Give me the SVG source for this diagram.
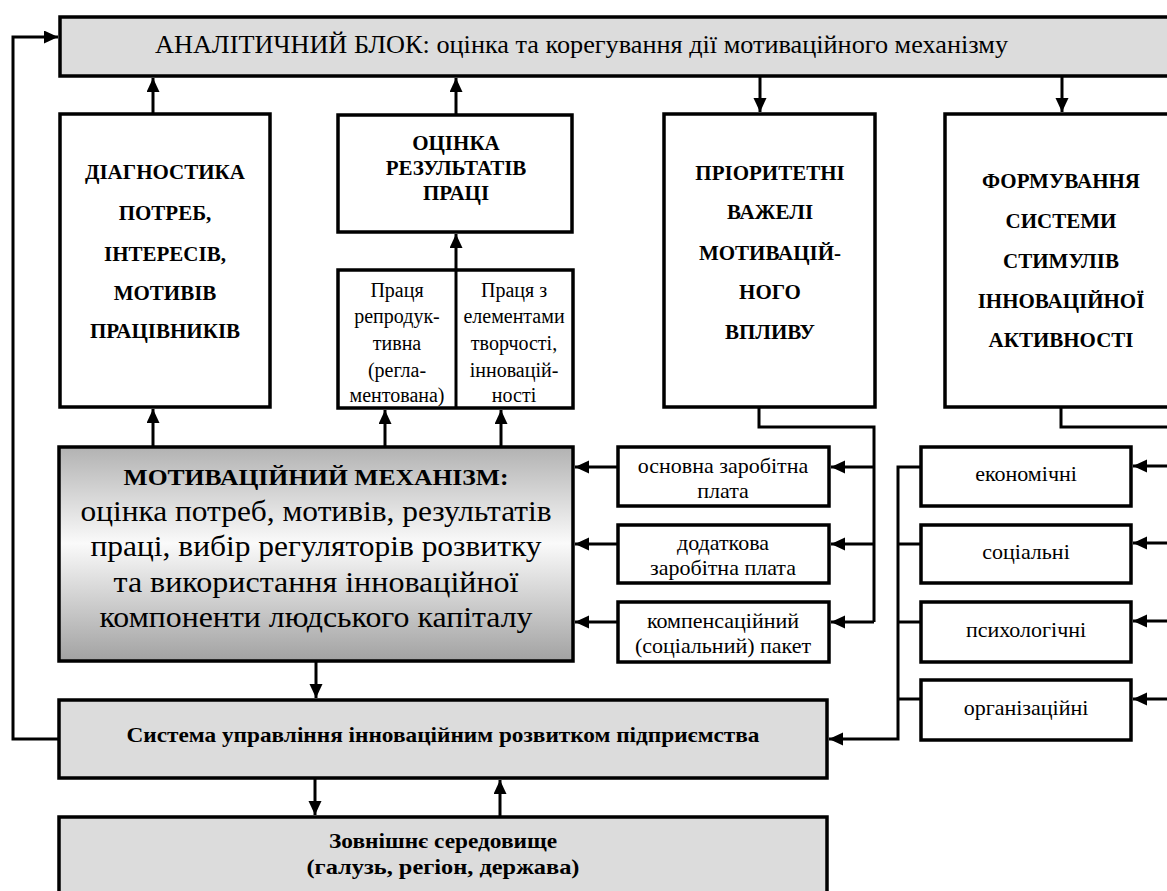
<svg xmlns="http://www.w3.org/2000/svg" width="1167" height="891" viewBox="0 0 1167 891">
<defs>
<style>
.box{fill:#fff;stroke:#000;stroke-width:3.5}
.grey{fill:#dcdcdc;stroke:#000;stroke-width:3.5}
.ln{fill:none;stroke:#000;stroke-width:3}
.t{font-family:"Liberation Serif","Times New Roman",serif;fill:#000;text-anchor:middle}
.s{text-anchor:start}
.b{font-weight:bold}
.sm{font-size:22px}
</style>
<linearGradient id="mg" x1="0" y1="0" x2="0" y2="1">
<stop offset="0" stop-color="#b2b2b2"/>
<stop offset="0.45" stop-color="#fafafa"/>
<stop offset="1" stop-color="#a2a2a2"/>
</linearGradient>
<marker id="ah" markerUnits="userSpaceOnUse" markerWidth="16" markerHeight="14" refX="14" refY="6.5" orient="auto">
<path d="M0,0 L14,6.5 L0,13 z" fill="#000"/>
</marker>
</defs>

<g id="analytic">
<rect class="grey" x="60" y="17" width="1130" height="59"/>
<text class="t s" x="155" y="53" font-size="24.5" textLength="853" lengthAdjust="spacingAndGlyphs">АНАЛІТИЧНИЙ  БЛОК: оцінка та корегування дії мотиваційного механізму</text>
</g>

<g id="diagnostics">
<rect class="box" x="60" y="114" width="210" height="293"/>
<text class="t b" font-size="21"><tspan x="165" y="179">ДІАГНОСТИКА</tspan><tspan x="165" y="220">ПОТРЕБ,</tspan><tspan x="165" y="261">ІНТЕРЕСІВ,</tspan><tspan x="165" y="300">МОТИВІВ</tspan><tspan x="165" y="338">ПРАЦІВНИКІВ</tspan></text>
</g>

<g id="results">
<rect class="box" x="338" y="115" width="234" height="117"/>
<text class="t b" font-size="21"><tspan x="456" y="150">ОЦІНКА</tspan><tspan x="456" y="175">РЕЗУЛЬТАТІВ</tspan><tspan x="456" y="200">ПРАЦІ</tspan></text>
</g>

<g id="labour">
<rect class="box" x="338" y="270" width="235" height="138"/>
<line class="ln" x1="456" y1="270" x2="456" y2="408"/>
<text class="t" font-size="20"><tspan x="397" y="297">Праця</tspan><tspan x="397" y="323">репродук-</tspan><tspan x="397" y="350">тивна</tspan><tspan x="397" y="377">(регла-</tspan><tspan x="397" y="402">ментована)</tspan></text>
<text class="t" font-size="20"><tspan x="514" y="297">Праця з</tspan><tspan x="514" y="323">елементами</tspan><tspan x="514" y="350">творчості,</tspan><tspan x="514" y="377">інновацій-</tspan><tspan x="514" y="402">ності</tspan></text>
</g>

<g id="levers">
<rect class="box" x="664" y="114" width="211" height="293"/>
<text class="t b" font-size="21"><tspan x="770" y="180">ПРІОРИТЕТНІ</tspan><tspan x="770" y="219">ВАЖЕЛІ</tspan><tspan x="770" y="260">МОТИВАЦІЙ-</tspan><tspan x="770" y="299">НОГО</tspan><tspan x="770" y="339">ВПЛИВУ</tspan></text>
</g>

<g id="stimuli">
<rect class="box" x="945" y="114" width="240" height="293"/>
<text class="t b" font-size="21"><tspan x="1061" y="188">ФОРМУВАННЯ</tspan><tspan x="1061" y="228">СИСТЕМИ</tspan><tspan x="1061" y="268">СТИМУЛІВ</tspan><tspan x="1061" y="308">ІННОВАЦІЙНОЇ</tspan><tspan x="1061" y="347">АКТИВНОСТІ</tspan></text>
</g>

<g id="mechanism">
<rect x="59" y="447" width="514" height="214" fill="url(#mg)" stroke="#000" stroke-width="3.5"/>
<text class="t b" x="316" y="485" font-size="24" textLength="385" lengthAdjust="spacingAndGlyphs">МОТИВАЦІЙНИЙ  МЕХАНІЗМ:</text>
<text class="t" x="316" y="521" font-size="30" textLength="471" lengthAdjust="spacingAndGlyphs">оцінка потреб, мотивів, результатів</text>
<text class="t" x="316" y="556" font-size="30" textLength="451" lengthAdjust="spacingAndGlyphs">праці, вибір регуляторів розвитку</text>
<text class="t" x="316" y="592" font-size="30" textLength="405" lengthAdjust="spacingAndGlyphs">та використання  інноваційної</text>
<text class="t" x="316" y="627" font-size="30" textLength="433" lengthAdjust="spacingAndGlyphs">компоненти людського капіталу</text>
</g>

<g id="basic-pay">
<rect class="box" x="618" y="447" width="211" height="59"/>
<text class="t sm"><tspan x="723" y="473">основна заробітна</tspan><tspan x="723" y="498">плата</tspan></text>
</g>
<g id="extra-pay">
<rect class="box" x="618" y="525" width="211" height="58"/>
<text class="t sm"><tspan x="723" y="550">додаткова</tspan><tspan x="723" y="575">заробітна плата</tspan></text>
</g>
<g id="package">
<rect class="box" x="618" y="602" width="211" height="60"/>
<text class="t sm"><tspan x="723" y="628">компенсаційний</tspan><tspan x="723" y="653">(соціальний) пакет</tspan></text>
</g>

<g id="economic">
<rect class="box" x="921" y="447" width="210" height="59"/>
<text class="t sm" x="1026" y="481">економічні</text>
</g>
<g id="social">
<rect class="box" x="921" y="525" width="210" height="58"/>
<text class="t sm" x="1026" y="559">соціальні</text>
</g>
<g id="psych">
<rect class="box" x="921" y="602" width="210" height="60"/>
<text class="t sm" x="1026" y="637">психологічні</text>
</g>
<g id="org">
<rect class="box" x="921" y="680" width="210" height="60"/>
<text class="t sm" x="1026" y="715">організаційні</text>
</g>

<g id="system">
<rect class="grey" x="59" y="700" width="768" height="78"/>
<text class="t b" x="443" y="742" font-size="21" textLength="633" lengthAdjust="spacingAndGlyphs">Система управління інноваційним  розвитком підприємства</text>
</g>

<g id="environment">
<rect class="grey" x="59" y="817" width="768" height="95"/>
<text class="t b" x="443" y="848" font-size="21" textLength="228" lengthAdjust="spacingAndGlyphs">Зовнішнє середовище</text>
<text class="t b" x="443" y="874" font-size="21" textLength="273" lengthAdjust="spacingAndGlyphs">(галузь, регіон, держава)</text>
</g>

<g id="connectors">
<polyline class="ln" points="59,739 13,739 13,37 58,37" marker-end="url(#ah)"/>
<line class="ln" x1="153" y1="114" x2="153" y2="78" marker-end="url(#ah)"/>
<line class="ln" x1="456" y1="115" x2="456" y2="78" marker-end="url(#ah)"/>
<line class="ln" x1="760" y1="76" x2="760" y2="112" marker-end="url(#ah)"/>
<line class="ln" x1="1062" y1="76" x2="1062" y2="112" marker-end="url(#ah)"/>
<line class="ln" x1="456" y1="270" x2="456" y2="234" marker-end="url(#ah)"/>
<line class="ln" x1="153" y1="447" x2="153" y2="409" marker-end="url(#ah)"/>
<line class="ln" x1="385" y1="447" x2="385" y2="410" marker-end="url(#ah)"/>
<line class="ln" x1="501" y1="447" x2="501" y2="410" marker-end="url(#ah)"/>
<polyline class="ln" points="759,407 759,427 874,427 874,622"/>
<line class="ln" x1="874" y1="467" x2="831" y2="467" marker-end="url(#ah)"/>
<line class="ln" x1="874" y1="544" x2="831" y2="544" marker-end="url(#ah)"/>
<line class="ln" x1="874" y1="622" x2="831" y2="622" marker-end="url(#ah)"/>
<line class="ln" x1="618" y1="467" x2="575" y2="467" marker-end="url(#ah)"/>
<line class="ln" x1="618" y1="544" x2="575" y2="544" marker-end="url(#ah)"/>
<line class="ln" x1="618" y1="622" x2="575" y2="622" marker-end="url(#ah)"/>
<polyline class="ln" points="1061,407 1061,427 1167,427"/>
<line class="ln" x1="1167" y1="466" x2="1133" y2="466" marker-end="url(#ah)"/>
<line class="ln" x1="1167" y1="543" x2="1133" y2="543" marker-end="url(#ah)"/>
<line class="ln" x1="1167" y1="621" x2="1133" y2="621" marker-end="url(#ah)"/>
<line class="ln" x1="1167" y1="699" x2="1133" y2="699" marker-end="url(#ah)"/>
<polyline class="ln" points="921,467 898,467 898,739 829,739" marker-end="url(#ah)"/>
<line class="ln" x1="898" y1="544" x2="921" y2="544"/>
<line class="ln" x1="898" y1="622" x2="921" y2="622"/>
<line class="ln" x1="898" y1="699" x2="921" y2="699"/>
<line class="ln" x1="316" y1="661" x2="316" y2="698" marker-end="url(#ah)"/>
<line class="ln" x1="315" y1="778" x2="315" y2="815" marker-end="url(#ah)"/>
<line class="ln" x1="500" y1="817" x2="500" y2="780" marker-end="url(#ah)"/>
</g>
</svg>
